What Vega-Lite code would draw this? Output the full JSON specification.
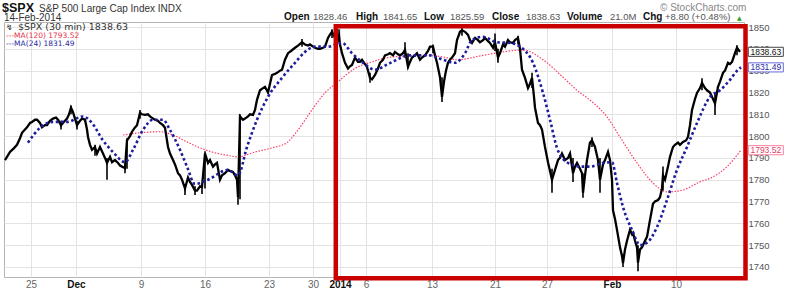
{
"$schema": "https://vega.github.io/schema/vega-lite/v6.json",
"width": 740, "height": 255,
"autosize": {"type": "none"},
"padding": {"left": 4, "top": 22, "right": 47, "bottom": 13},
"background": "white",
"config": {"view": {"stroke": "#b4b4b4"}, "font": "Liberation Sans", "axis": {"labelOverlap": false}, "axisY": {"labelOverlap": false}},
"datasets": {
"px": [
{"t":-26,"v":1789},{"t":-21,"v":1792.7},{"t":-17,"v":1794.5},{"t":-14,"v":1796},{"t":-11,"v":1799},{"t":-9,"v":1801.5},{"t":-6,"v":1803},{"t":-4,"v":1804},{"t":-1,"v":1806},{"t":1,"v":1806.5},{"t":4,"v":1807.5},{"t":6,"v":1807.5},{"t":9,"v":1806},{"t":11,"v":1804},{"t":14,"v":1805},{"t":16,"v":1805},{"t":19,"v":1807},{"t":22,"v":1808},{"t":25,"v":1808.5},{"t":27,"v":1807.5},{"t":30,"v":1805},{"t":32,"v":1806},{"t":34,"v":1807},{"t":36,"v":1808},{"t":38,"v":1810},{"t":40,"v":1813},{"t":42,"v":1811},{"t":44,"v":1808},{"t":46,"v":1805},{"t":49,"v":1807},{"t":51,"v":1808},{"t":54,"v":1807.5},{"t":56,"v":1803},{"t":57,"v":1799.6},{"t":59,"v":1796},{"t":61,"v":1793.7},{"t":64,"v":1795},{"t":66,"v":1792},{"t":69,"v":1795},{"t":72,"v":1792},{"t":74,"v":1790},{"t":76,"v":1787.7},{"t":79,"v":1790.5},{"t":81,"v":1788},{"t":84,"v":1789},{"t":87,"v":1787.7},{"t":89,"v":1786.5},{"t":91,"v":1786},{"t":94,"v":1785.4},{"t":96,"v":1798},{"t":99,"v":1800},{"t":101,"v":1802},{"t":104,"v":1804},{"t":106,"v":1805},{"t":109,"v":1810.6},{"t":111,"v":1810},{"t":114,"v":1809.7},{"t":117,"v":1810},{"t":119,"v":1809},{"t":122,"v":1808},{"t":124,"v":1807.5},{"t":127,"v":1807},{"t":129,"v":1806},{"t":132,"v":1805},{"t":134,"v":1803.8},{"t":136,"v":1798},{"t":137,"v":1795},{"t":139,"v":1792},{"t":142,"v":1789},{"t":144,"v":1787},{"t":147,"v":1783},{"t":149,"v":1782},{"t":151,"v":1780},{"t":154,"v":1776},{"t":157,"v":1781},{"t":159,"v":1779},{"t":161,"v":1777.6},{"t":164,"v":1775},{"t":166,"v":1775},{"t":169,"v":1777},{"t":171,"v":1776.7},{"t":174,"v":1792},{"t":177,"v":1787.7},{"t":179,"v":1789},{"t":182,"v":1786},{"t":184,"v":1787},{"t":186,"v":1787.7},{"t":189,"v":1780},{"t":191,"v":1782},{"t":194,"v":1783},{"t":197,"v":1784.5},{"t":199,"v":1784},{"t":202,"v":1783.6},{"t":204,"v":1782},{"t":206,"v":1780},{"t":207,"v":1772},{"t":209,"v":1809},{"t":212,"v":1807.5},{"t":214,"v":1808},{"t":217,"v":1809},{"t":219,"v":1810},{"t":222,"v":1809.7},{"t":224,"v":1812},{"t":226,"v":1816.6},{"t":229,"v":1821},{"t":232,"v":1822},{"t":234,"v":1822.6},{"t":237,"v":1820},{"t":239,"v":1824},{"t":241,"v":1828},{"t":244,"v":1828.5},{"t":246,"v":1829},{"t":249,"v":1830},{"t":251,"v":1830.4},{"t":254,"v":1835},{"t":257,"v":1838},{"t":260,"v":1839},{"t":264,"v":1840.5},{"t":267,"v":1841.5},{"t":271,"v":1843},{"t":274,"v":1842},{"t":277,"v":1841.5},{"t":279,"v":1842},{"t":282,"v":1841},{"t":284,"v":1840.5},{"t":287,"v":1840},{"t":289,"v":1840},{"t":292,"v":1840.5},{"t":294,"v":1841},{"t":297,"v":1845},{"t":299,"v":1846.5},{"t":301,"v":1847.8},{"t":304,"v":1845},{"t":306,"v":1844},{"t":308,"v":1846},{"t":309,"v":1842},{"t":311,"v":1838},{"t":314,"v":1833.6},{"t":317,"v":1831},{"t":319,"v":1832},{"t":321,"v":1832.6},{"t":324,"v":1836},{"t":327,"v":1834},{"t":329,"v":1834},{"t":331,"v":1835},{"t":334,"v":1833},{"t":336,"v":1831.7},{"t":339,"v":1826.7},{"t":341,"v":1826},{"t":344,"v":1828},{"t":347,"v":1831},{"t":349,"v":1833.6},{"t":352,"v":1835},{"t":354,"v":1837},{"t":357,"v":1837.5},{"t":359,"v":1838},{"t":362,"v":1837},{"t":364,"v":1838.6},{"t":367,"v":1837.5},{"t":369,"v":1837},{"t":372,"v":1838},{"t":374,"v":1839.5},{"t":377,"v":1831.7},{"t":379,"v":1834},{"t":381,"v":1836},{"t":384,"v":1837},{"t":386,"v":1838},{"t":389,"v":1835},{"t":391,"v":1836},{"t":394,"v":1837},{"t":397,"v":1839},{"t":399,"v":1841},{"t":402,"v":1841},{"t":404,"v":1837},{"t":406,"v":1833.6},{"t":409,"v":1827},{"t":411,"v":1818},{"t":413,"v":1825},{"t":415,"v":1830},{"t":417,"v":1833.6},{"t":419,"v":1835},{"t":421,"v":1836},{"t":424,"v":1838},{"t":426,"v":1844},{"t":429,"v":1847.8},{"t":431,"v":1848.5},{"t":434,"v":1847.8},{"t":437,"v":1846.4},{"t":439,"v":1844},{"t":441,"v":1842.7},{"t":444,"v":1845},{"t":447,"v":1844},{"t":449,"v":1843},{"t":452,"v":1844},{"t":454,"v":1845},{"t":457,"v":1843.5},{"t":459,"v":1842.7},{"t":462,"v":1840.5},{"t":464,"v":1843},{"t":467,"v":1836},{"t":469,"v":1838},{"t":472,"v":1842},{"t":474,"v":1841},{"t":477,"v":1844},{"t":479,"v":1843},{"t":482,"v":1842.7},{"t":484,"v":1844},{"t":487,"v":1845},{"t":489,"v":1840},{"t":491,"v":1830.4},{"t":494,"v":1826.7},{"t":497,"v":1822},{"t":499,"v":1824},{"t":501,"v":1826.7},{"t":503,"v":1818},{"t":504,"v":1813},{"t":507,"v":1806},{"t":509,"v":1805},{"t":511,"v":1803},{"t":514,"v":1795},{"t":517,"v":1788},{"t":519,"v":1784},{"t":521,"v":1780},{"t":524,"v":1784.5},{"t":527,"v":1789},{"t":529,"v":1790},{"t":531,"v":1792},{"t":534,"v":1789},{"t":537,"v":1790},{"t":539,"v":1792},{"t":542,"v":1783},{"t":544,"v":1786},{"t":546,"v":1787.7},{"t":549,"v":1785},{"t":551,"v":1783},{"t":552,"v":1774},{"t":554,"v":1782},{"t":556,"v":1789},{"t":559,"v":1797},{"t":561,"v":1798},{"t":564,"v":1795},{"t":567,"v":1789},{"t":569,"v":1780},{"t":572,"v":1787},{"t":574,"v":1789},{"t":577,"v":1792.7},{"t":579,"v":1789},{"t":581,"v":1780},{"t":582,"v":1766},{"t":584,"v":1762},{"t":586,"v":1757},{"t":589,"v":1749},{"t":591,"v":1745},{"t":592,"v":1741.8},{"t":594,"v":1748},{"t":596,"v":1752},{"t":599,"v":1757},{"t":601,"v":1755},{"t":602,"v":1755.6},{"t":604,"v":1752},{"t":606,"v":1749},{"t":607,"v":1742},{"t":609,"v":1748},{"t":611,"v":1749},{"t":614,"v":1752},{"t":616,"v":1753.8},{"t":619,"v":1761.6},{"t":622,"v":1769},{"t":624,"v":1770},{"t":627,"v":1770.7},{"t":629,"v":1772},{"t":631,"v":1776},{"t":632,"v":1782},{"t":634,"v":1780},{"t":637,"v":1786},{"t":639,"v":1790.5},{"t":642,"v":1795},{"t":644,"v":1796},{"t":647,"v":1797},{"t":649,"v":1796},{"t":652,"v":1797.3},{"t":655,"v":1798},{"t":657,"v":1799.6},{"t":659,"v":1805},{"t":661,"v":1812},{"t":664,"v":1817},{"t":666,"v":1819.8},{"t":669,"v":1822},{"t":671,"v":1824.4},{"t":674,"v":1822},{"t":676,"v":1821},{"t":679,"v":1820},{"t":681,"v":1818},{"t":684,"v":1815},{"t":687,"v":1822.6},{"t":689,"v":1825},{"t":692,"v":1829},{"t":694,"v":1830},{"t":697,"v":1833.6},{"t":699,"v":1833},{"t":701,"v":1834},{"t":704,"v":1838},{"t":706,"v":1840.5},{"t":709,"v":1838.63}
],
"spikes": [
{"t":30,"lo":1803,"hi":1807},{"t":40,"lo":1810,"hi":1814},{"t":46,"lo":1803,"hi":1807},{"t":64,"lo":1791,"hi":1796},{"t":76,"lo":1780,"hi":1790},{"t":94,"lo":1783,"hi":1787},{"t":96,"lo":1785,"hi":1799},{"t":109,"lo":1808,"hi":1812},{"t":154,"lo":1773,"hi":1778},{"t":164,"lo":1773,"hi":1777},{"t":171,"lo":1773.5,"hi":1778},{"t":174,"lo":1776,"hi":1793},{"t":207,"lo":1768.5,"hi":1781},{"t":209,"lo":1771,"hi":1810},{"t":271,"lo":1841,"hi":1844.5},{"t":301,"lo":1845,"hi":1849},{"t":308,"lo":1843,"hi":1849},{"t":339,"lo":1824.4,"hi":1829},{"t":374,"lo":1836,"hi":1843},{"t":377,"lo":1831,"hi":1838},{"t":402,"lo":1838,"hi":1842},{"t":411,"lo":1815.6,"hi":1827},{"t":431,"lo":1846,"hi":1850.8},{"t":464,"lo":1839,"hi":1847},{"t":467,"lo":1833.6,"hi":1840},{"t":487,"lo":1842,"hi":1846},{"t":501,"lo":1822,"hi":1829},{"t":521,"lo":1774,"hi":1785},{"t":542,"lo":1779,"hi":1790},{"t":552,"lo":1771.7,"hi":1783},{"t":561,"lo":1795,"hi":1799.5},{"t":569,"lo":1774,"hi":1790},{"t":592,"lo":1740,"hi":1746},{"t":607,"lo":1738,"hi":1750},{"t":632,"lo":1775,"hi":1786},{"t":671,"lo":1821,"hi":1826.5},{"t":684,"lo":1809.7,"hi":1820},{"t":706,"lo":1837,"hi":1841.65}
],
"ma24": [
{"t":-3,"v":1797},{"t":9,"v":1803.8},{"t":22,"v":1806.5},{"t":36,"v":1806.5},{"t":52,"v":1809},{"t":61,"v":1806},{"t":72,"v":1798},{"t":82,"v":1792.7},{"t":94,"v":1788},{"t":102,"v":1793.7},{"t":112,"v":1802.8},{"t":122,"v":1807.5},{"t":132,"v":1807.5},{"t":139,"v":1802.8},{"t":149,"v":1793.7},{"t":156,"v":1786},{"t":164,"v":1778},{"t":177,"v":1780},{"t":197,"v":1784.5},{"t":207,"v":1782},{"t":216,"v":1795},{"t":226,"v":1807.5},{"t":237,"v":1818},{"t":251,"v":1826.7},{"t":264,"v":1833.6},{"t":274,"v":1838.6},{"t":284,"v":1841},{"t":297,"v":1841},{"t":311,"v":1842.7},{"t":321,"v":1838},{"t":331,"v":1834},{"t":344,"v":1830.4},{"t":357,"v":1833},{"t":379,"v":1837},{"t":399,"v":1837},{"t":412,"v":1835},{"t":424,"v":1833.6},{"t":434,"v":1838},{"t":441,"v":1844},{"t":452,"v":1845.5},{"t":466,"v":1843},{"t":479,"v":1842.7},{"t":489,"v":1841},{"t":502,"v":1833.6},{"t":512,"v":1819.8},{"t":519,"v":1807.5},{"t":526,"v":1794.6},{"t":536,"v":1788},{"t":549,"v":1786},{"t":559,"v":1786},{"t":572,"v":1787.7},{"t":581,"v":1788},{"t":586,"v":1778.5},{"t":592,"v":1767.5},{"t":601,"v":1757},{"t":609,"v":1750},{"t":617,"v":1751.5},{"t":626,"v":1758.3},{"t":636,"v":1770.7},{"t":646,"v":1784.5},{"t":656,"v":1795},{"t":666,"v":1806},{"t":679,"v":1818},{"t":689,"v":1821},{"t":699,"v":1825.8},{"t":707,"v":1830.4},{"t":710,"v":1831.49}
],
"ma120": [
{"t":92,"v":1800.5},{"t":109,"v":1801.5},{"t":129,"v":1802},{"t":142,"v":1800.5},{"t":156,"v":1797.3},{"t":167,"v":1795},{"t":181,"v":1792.7},{"t":194,"v":1791.4},{"t":207,"v":1790.5},{"t":224,"v":1792.7},{"t":241,"v":1794.6},{"t":256,"v":1797},{"t":267,"v":1802.8},{"t":281,"v":1812},{"t":294,"v":1819.8},{"t":307,"v":1824.9},{"t":324,"v":1831},{"t":341,"v":1834},{"t":357,"v":1836},{"t":392,"v":1837},{"t":412,"v":1836.3},{"t":426,"v":1835},{"t":452,"v":1837},{"t":472,"v":1838.6},{"t":492,"v":1839.5},{"t":512,"v":1835},{"t":532,"v":1827},{"t":546,"v":1821},{"t":559,"v":1816.5},{"t":576,"v":1808.8},{"t":589,"v":1799.6},{"t":606,"v":1787.7},{"t":622,"v":1778.5},{"t":636,"v":1774.4},{"t":652,"v":1775.3},{"t":669,"v":1779},{"t":682,"v":1781.3},{"t":696,"v":1786},{"t":710,"v":1793.52}
],
"tags": [
{"v":1838.63,"lab":"1838.63","k":"price"},{"v":1831.49,"lab":"1831.49","k":"MA(24)"},{"v":1793.52,"lab":"1793.52","k":"MA(120)"}
]
},
"layer": [
{"data": {"name": "ma120"},
 "mark": {"type": "line", "color": "#ff3d66", "strokeWidth": 1.2, "strokeDash": [1.5, 1.5], "interpolate": "monotone"},
 "encoding": {
  "x": {"field": "t", "type": "quantitative", "scale": {"domain": [-27, 713], "nice": false, "zero": false},
   "axis": {"title": null, "values": [0,45,110,174,238,282,309,335,401,464,516,581,645],
    "labelExpr": "{'0':'25','45':'Dec','110':'9','174':'16','238':'23','282':'30','309':'2014','335':'6','401':'13','464':'21','516':'27','581':'Feb','645':'10'}[datum.value]",
    "grid": true, "gridColor": "#e3e3e3", "ticks": false, "domain": false, "labelFontSize": 10, "labelPadding": 2, "labelOverlap": false, "labelFlush": false,
    "labelColor": {"condition": {"test": "datum.value==45||datum.value==309||datum.value==581", "value": "#111"}, "value": "#666"},
    "labelFontWeight": {"condition": {"test": "datum.value==45||datum.value==309||datum.value==581", "value": "bold"}, "value": "normal"}}},
  "y": {"field": "v", "type": "quantitative", "scale": {"domain": [1735.4, 1852.3], "nice": false, "zero": false},
   "axis": {"orient": "right", "title": null, "values": [1740,1750,1760,1770,1780,1790,1800,1810,1820,1830,1840,1850], "tickCount": 12, "format": "d",
    "grid": true, "gridColor": "#e3e3e3", "ticks": false, "domain": false, "labelFontSize": 9.5, "labelColor": "#555", "labelPadding": 4, "labelOverlap": false, "labelFlush": false}}
 }},
{"data": {"name": "px"},
 "mark": {"type": "line", "color": "#000", "strokeWidth": 2.3},
 "encoding": {"x": {"field": "t", "type": "quantitative"}, "y": {"field": "v", "type": "quantitative"}}},
{"data": {"name": "spikes"},
 "mark": {"type": "rule", "color": "#000", "strokeWidth": 1.6},
 "encoding": {"x": {"field": "t", "type": "quantitative"}, "y": {"field": "lo", "type": "quantitative"}, "y2": {"field": "hi"}}},
{"data": {"name": "ma24"},
 "mark": {"type": "line", "color": "#1c1c9c", "strokeWidth": 2.6, "strokeDash": [2.6, 2.6], "interpolate": "monotone"},
 "encoding": {"x": {"field": "t", "type": "quantitative"}, "y": {"field": "v", "type": "quantitative"}}},
{"data": {"values": [{"region": "2014 YTD"}]},
 "mark": {"type": "rect", "filled": false, "color": "#c80000", "strokeWidth": 4.5},
 "encoding": {"x": {"datum": 304.8}, "x2": {"datum": 714.5}, "y": {"datum": 1850.4}, "y2": {"datum": 1734.8}}},
{"data": {"name": "tags"},
 "mark": {"type": "point", "shape": "M-1,-0.26H1V0.26H-1Z", "size": 1225, "filled": true, "fill": "white", "opacity": 1, "strokeWidth": 1},
 "encoding": {"x": {"datum": 734.8}, "y": {"field": "v", "type": "quantitative"},
  "stroke": {"field": "k", "type": "nominal", "scale": {"domain": ["price", "MA(24)", "MA(120)"], "range": ["#444", "#6a6ad8", "#ff7f9a"]}, "legend": null}}},
{"data": {"name": "tags"},
 "mark": {"type": "text", "fontSize": 8.5, "align": "center", "baseline": "middle"},
 "encoding": {"x": {"datum": 734.8}, "y": {"field": "v", "type": "quantitative"}, "text": {"field": "lab"},
  "color": {"field": "k", "type": "nominal", "scale": {"domain": ["price", "MA(24)", "MA(120)"], "range": ["#111", "#2a2aa0", "#e0406a"]}, "legend": null},
  "fontWeight": {"condition": {"test": "datum.k=='price'", "value": "bold"}, "value": "normal"}}},
{"data": {"values": [{"s": "↯"}]},
 "mark": {"type": "text", "align": "left", "baseline": "alphabetic", "font": "DejaVu Sans", "fontSize": 8, "color": "#333"},
 "encoding": {"x": {"datum": -25}, "y": {"datum": 1848.6}, "text": {"field": "s"}}},
{"data": {"values": [{"s": "$SPX (30 min) 1838.63"}]},
 "mark": {"type": "text", "align": "left", "baseline": "alphabetic", "font": "DejaVu Sans", "fontSize": 9.5, "color": "#333"},
 "encoding": {"x": {"datum": -13}, "y": {"datum": 1848.6}, "text": {"field": "s"}}},
{"data": {"values": [{"s": "---MA(120) 1793.52"}]},
 "mark": {"type": "text", "align": "left", "baseline": "alphabetic", "font": "DejaVu Sans", "fontSize": 7.5, "color": "#e8304a"},
 "encoding": {"x": {"datum": -25}, "y": {"datum": 1844.9}, "text": {"field": "s"}}},
{"data": {"values": [{"s": "---MA(24) 1831.49"}]},
 "mark": {"type": "text", "align": "left", "baseline": "alphabetic", "font": "DejaVu Sans", "fontSize": 7.5, "color": "#2a2aa0"},
 "encoding": {"x": {"datum": -25}, "y": {"datum": 1841.5}, "text": {"field": "s"}}},
{"data": {"values": [{"s": "$SPX"}]},
 "mark": {"type": "text", "align": "left", "baseline": "alphabetic", "fontSize": 12.5, "fontWeight": "bold", "color": "#111"},
 "encoding": {"x": {"datum": -29}, "y": {"datum": 1857.1}, "text": {"field": "s"}}},
{"data": {"values": [{"s": "S&P 500 Large Cap Index  INDX"}]},
 "mark": {"type": "text", "align": "left", "baseline": "alphabetic", "fontSize": 10, "color": "#333"},
 "encoding": {"x": {"datum": 8}, "y": {"datum": 1857.1}, "text": {"field": "s"}}},
{"data": {"values": [{"s": "14-Feb-2014"}]},
 "mark": {"type": "text", "align": "left", "baseline": "alphabetic", "fontSize": 10, "color": "#333"},
 "encoding": {"x": {"datum": -27}, "y": {"datum": 1852.9}, "text": {"field": "s"}}},
{"data": {"values": [{"s": "© StockCharts.com"}]},
 "mark": {"type": "text", "align": "left", "baseline": "alphabetic", "fontSize": 10, "color": "#888"},
 "encoding": {"x": {"datum": 629}, "y": {"datum": 1857.5}, "text": {"field": "s"}}},
{"data": {"values": [{"s": "Open"}]}, "mark": {"type": "text", "align": "left", "baseline": "alphabetic", "fontSize": 10, "fontWeight": "bold", "color": "#111"}, "encoding": {"x": {"datum": 253}, "y": {"datum": 1853.3}, "text": {"field": "s"}}},
{"data": {"values": [{"s": "1828.46"}]}, "mark": {"type": "text", "align": "left", "baseline": "alphabetic", "fontSize": 9.5, "color": "#555"}, "encoding": {"x": {"datum": 282}, "y": {"datum": 1853.3}, "text": {"field": "s"}}},
{"data": {"values": [{"s": "High"}]}, "mark": {"type": "text", "align": "left", "baseline": "alphabetic", "fontSize": 10, "fontWeight": "bold", "color": "#111"}, "encoding": {"x": {"datum": 325}, "y": {"datum": 1853.3}, "text": {"field": "s"}}},
{"data": {"values": [{"s": "1841.65"}]}, "mark": {"type": "text", "align": "left", "baseline": "alphabetic", "fontSize": 9.5, "color": "#555"}, "encoding": {"x": {"datum": 352}, "y": {"datum": 1853.3}, "text": {"field": "s"}}},
{"data": {"values": [{"s": "Low"}]}, "mark": {"type": "text", "align": "left", "baseline": "alphabetic", "fontSize": 10, "fontWeight": "bold", "color": "#111"}, "encoding": {"x": {"datum": 393}, "y": {"datum": 1853.3}, "text": {"field": "s"}}},
{"data": {"values": [{"s": "1825.59"}]}, "mark": {"type": "text", "align": "left", "baseline": "alphabetic", "fontSize": 9.5, "color": "#555"}, "encoding": {"x": {"datum": 419}, "y": {"datum": 1853.3}, "text": {"field": "s"}}},
{"data": {"values": [{"s": "Close"}]}, "mark": {"type": "text", "align": "left", "baseline": "alphabetic", "fontSize": 10, "fontWeight": "bold", "color": "#111"}, "encoding": {"x": {"datum": 461}, "y": {"datum": 1853.3}, "text": {"field": "s"}}},
{"data": {"values": [{"s": "1838.63"}]}, "mark": {"type": "text", "align": "left", "baseline": "alphabetic", "fontSize": 9.5, "color": "#555"}, "encoding": {"x": {"datum": 495}, "y": {"datum": 1853.3}, "text": {"field": "s"}}},
{"data": {"values": [{"s": "Volume"}]}, "mark": {"type": "text", "align": "left", "baseline": "alphabetic", "fontSize": 10, "fontWeight": "bold", "color": "#111"}, "encoding": {"x": {"datum": 536}, "y": {"datum": 1853.3}, "text": {"field": "s"}}},
{"data": {"values": [{"s": "21.0M"}]}, "mark": {"type": "text", "align": "left", "baseline": "alphabetic", "fontSize": 9.5, "color": "#555"}, "encoding": {"x": {"datum": 579}, "y": {"datum": 1853.3}, "text": {"field": "s"}}},
{"data": {"values": [{"s": "Chg"}]}, "mark": {"type": "text", "align": "left", "baseline": "alphabetic", "fontSize": 10, "fontWeight": "bold", "color": "#111"}, "encoding": {"x": {"datum": 612}, "y": {"datum": 1853.3}, "text": {"field": "s"}}},
{"data": {"values": [{"s": "+8.80 (+0.48%)"}]}, "mark": {"type": "text", "align": "left", "baseline": "alphabetic", "fontSize": 9.5, "color": "#555"}, "encoding": {"x": {"datum": 634}, "y": {"datum": 1853.3}, "text": {"field": "s"}}},
{"data": {"values": [{"s": "▲"}]}, "mark": {"type": "text", "align": "left", "baseline": "alphabetic", "font": "DejaVu Sans", "fontSize": 6, "color": "#22a022"}, "encoding": {"x": {"datum": 706}, "y": {"datum": 1853.3}, "text": {"field": "s"}}}
]
}
